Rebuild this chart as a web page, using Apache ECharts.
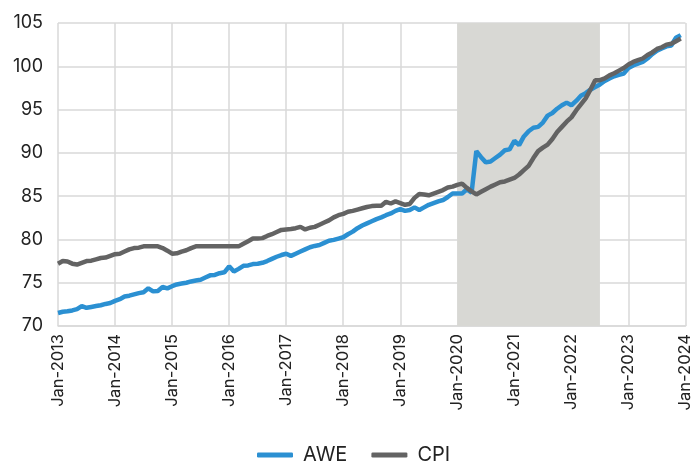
<!DOCTYPE html>
<html>
<head>
<meta charset="utf-8">
<script src="https://cdn.jsdelivr.net/npm/echarts@6/dist/echarts.min.js"></script>
<style>html,body{margin:0;padding:0;background:#fff;}#c{width:694px;height:463px;}</style>
</head>
<body>
<div id="c"></div>
<script>
// Categories: monthly, Jan-2013 .. Jan-2024
const monthNames = ['Jan','Feb','Mar','Apr','May','Jun','Jul','Aug','Sep','Oct','Nov','Dec'];
const categories = [];
for (let y = 2013; y <= 2024; y++) {
  for (let m = 0; m < 12; m++) {
    if (y === 2024 && m > 0) break;
    categories.push(monthNames[m] + '-' + y);
  }
}

// AWE index, monthly Jan-2013 .. Dec-2023
const awe2013 = [71.5, 71.65, 71.7, 71.8, 71.95, 72.3, 72.1, 72.2, 72.3, 72.4, 72.55, 72.65];
const awe2014 = [72.9, 73.1, 73.4, 73.5, 73.65, 73.8, 73.9, 74.35, 74.0, 74.05, 74.5, 74.35];
const awe2015 = [74.6, 74.8, 74.9, 75.0, 75.15, 75.25, 75.35, 75.6, 75.85, 75.9, 76.1, 76.2];
const awe2016 = [76.9, 76.3, 76.6, 76.95, 77.0, 77.15, 77.2, 77.3, 77.5, 77.75, 78.0, 78.2];
const awe2017 = [78.35, 78.1, 78.35, 78.6, 78.85, 79.1, 79.25, 79.35, 79.6, 79.85, 79.95, 80.1];
const awe2018 = [80.25, 80.6, 80.9, 81.3, 81.6, 81.85, 82.1, 82.35, 82.55, 82.8, 83.0, 83.3];
const awe2019 = [83.5, 83.3, 83.4, 83.7, 83.4, 83.7, 84.0, 84.2, 84.4, 84.55, 84.9, 85.3];
const awe2020 = [85.3, 85.3, 85.8, 85.4, 90.2, 89.5, 88.9, 89.0, 89.4, 89.8, 90.3, 90.4];
const awe2021 = [91.4, 90.9, 91.9, 92.5, 92.9, 93.0, 93.5, 94.3, 94.6, 95.1, 95.5, 95.8];
const awe2022 = [95.5, 96.0, 96.6, 96.9, 97.3, 97.6, 97.9, 98.3, 98.6, 98.85, 99.0, 99.15];
const awe2023 = [99.8, 100.1, 100.3, 100.5, 100.9, 101.4, 101.8, 102.05, 102.3, 102.4, 103.3, 103.6];

// CPI index, monthly Jan-2013 .. Dec-2023
const cpi2013 = [77.2, 77.5, 77.45, 77.2, 77.1, 77.3, 77.5, 77.55, 77.7, 77.85, 77.9, 78.1];
const cpi2014 = [78.3, 78.35, 78.6, 78.85, 79.0, 79.05, 79.2, 79.2, 79.2, 79.2, 79.0, 78.7];
const cpi2015 = [78.35, 78.4, 78.6, 78.75, 79.0, 79.2, 79.2, 79.2, 79.2, 79.2, 79.2, 79.2];
const cpi2016 = [79.2, 79.2, 79.2, 79.5, 79.8, 80.1, 80.1, 80.15, 80.4, 80.6, 80.85, 81.1];
const cpi2017 = [81.15, 81.2, 81.3, 81.45, 81.15, 81.35, 81.45, 81.7, 81.95, 82.2, 82.55, 82.8];
const cpi2018 = [82.95, 83.2, 83.3, 83.45, 83.6, 83.75, 83.85, 83.9, 83.9, 84.35, 84.15, 84.4];
const cpi2019 = [84.2, 84.0, 84.1, 84.8, 85.25, 85.2, 85.1, 85.3, 85.5, 85.7, 86.0, 86.1];
const cpi2020 = [86.3, 86.45, 85.95, 85.55, 85.2, 85.5, 85.8, 86.1, 86.35, 86.6, 86.7, 86.9];
const cpi2021 = [87.1, 87.5, 88.0, 88.5, 89.4, 90.2, 90.6, 90.95, 91.6, 92.4, 93.0, 93.6];
const cpi2022 = [94.1, 94.9, 95.6, 96.3, 97.3, 98.4, 98.4, 98.6, 98.95, 99.2, 99.5, 99.8];
const cpi2023 = [100.2, 100.5, 100.7, 100.9, 101.3, 101.6, 102.0, 102.2, 102.5, 102.6, 102.9, 103.2];

const awe = [].concat(awe2013, awe2014, awe2015, awe2016, awe2017, awe2018, awe2019, awe2020, awe2021, awe2022, awe2023);
const cpi = [].concat(cpi2013, cpi2014, cpi2015, cpi2016, cpi2017, cpi2018, cpi2019, cpi2020, cpi2021, cpi2022, cpi2023);

const shadeStart = 'Jan-2020';
const shadeEnd = 'Jul-2022';

const FONT = 'Inter, "Noto Sans", sans-serif';
const chart = echarts.init(document.getElementById('c'), null, {renderer: 'canvas'});
chart.setOption({
  animation: false,
  grid: {left: 58, right: 5, top: 23, bottom: 137, containLabel: false},
  legend: {
    top: 440, left: 252,
    data: ['AWE', 'CPI'],
    icon: 'roundRect', itemWidth: 36, itemHeight: 5, itemGap: 24,
    formatter: function (name) { return '{t|' + name + '}'; },
    textStyle: {
      fontFamily: FONT, fontSize: 20, color: '#222',
      rich: {t: {fontFamily: FONT, fontSize: 20, color: '#222', padding: [0, 0, 0, 5]}}
    }
  },
  xAxis: {
    type: 'category', data: categories, boundaryGap: false,
    axisLine: {show: true, lineStyle: {color: '#d9d9d9', width: 1.5}},
    axisTick: {show: false},
    axisLabel: {interval: 11, rotate: 90, margin: 8, fontFamily: FONT, fontSize: 16.5, color: '#222'},
    splitLine: {show: true, interval: 11, lineStyle: {color: '#d9d9d9', width: 1.5}}
  },
  yAxis: {
    type: 'value', min: 70, max: 105, interval: 5,
    axisLine: {show: false}, axisTick: {show: false},
    axisLabel: {margin: 15, fontFamily: FONT, fontSize: 18, color: '#222'},
    splitLine: {lineStyle: {color: '#d9d9d9', width: 1.5}}
  },
  series: [
    {
      name: 'AWE', type: 'line', data: awe, showSymbol: false, symbol: 'none',
      lineStyle: {color: '#2b90d2', width: 4.5}, itemStyle: {color: '#2b90d2'},
      markArea: {
        silent: true,
        itemStyle: {color: '#d8d8d4'},
        data: [[{xAxis: shadeStart}, {xAxis: shadeEnd}]]
      },
      z: 2
    },
    {
      name: 'CPI', type: 'line', data: cpi, showSymbol: false, symbol: 'none',
      lineStyle: {color: '#636363', width: 4.5}, itemStyle: {color: '#636363'},
      z: 3
    }
  ]
});
</script>
</body>
</html>
